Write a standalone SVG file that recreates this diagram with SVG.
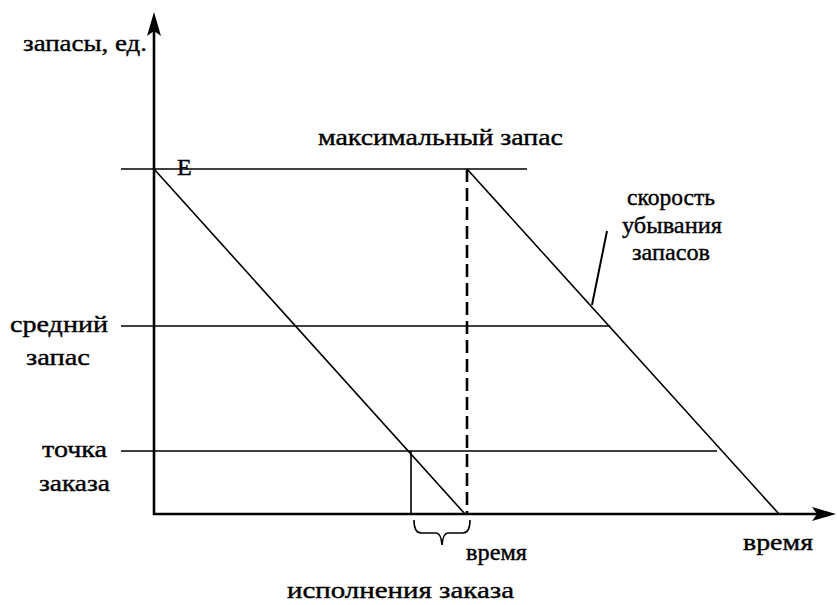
<svg xmlns="http://www.w3.org/2000/svg" width="837" height="605" viewBox="0 0 837 605">
<style>
text{font-family:"Liberation Serif","Times New Roman",serif;font-size:24px;fill:#000;stroke:#000;stroke-width:0.4}
.ln{stroke:#000;stroke-width:1.6;fill:none}
.ax{stroke:#000;stroke-width:2.6;fill:none}
</style>
<rect width="837" height="605" fill="#fff"/>
<g id="connectors">
<line class="ax" x1="154" y1="515" x2="154" y2="30"/>
<path d="M154,12 L161,36 L154,31 L147,36 Z" fill="#000"/>
<line class="ax" x1="153" y1="514" x2="820" y2="514"/>
<path d="M836,514 L812,521 L817,514 L812,507 Z" fill="#000"/>
<line class="ln" x1="121" y1="169" x2="527" y2="169"/>
<line class="ln" x1="121" y1="326" x2="610" y2="326"/>
<line class="ln" x1="121" y1="451" x2="717" y2="451"/>
<line class="ln" x1="154" y1="169" x2="465" y2="514"/>
<line class="ln" x1="467" y1="169" x2="779" y2="514"/>
<line x1="467" y1="169" x2="467" y2="514" stroke="#000" stroke-width="2.6" stroke-dasharray="13,6"/>
<line class="ln" x1="411" y1="451" x2="411" y2="514"/>
<line x1="607" y1="231" x2="592" y2="305" stroke="#000" stroke-width="2"/>
<path class="ln" d="M414,520 Q414,533 421,533 L436,533 Q441,533 442,545 Q443,533 448,533 L463,533 Q470,533 470,520"/>
</g>
<g id="labels">
<text x="23" y="51" textLength="124" lengthAdjust="spacingAndGlyphs">запасы, ед.</text>
<text x="177" y="175">E</text>
<text x="318" y="145" textLength="245" lengthAdjust="spacingAndGlyphs">максимальный запас</text>
<text x="627" y="205" textLength="88" lengthAdjust="spacingAndGlyphs">скорость</text>
<text x="622" y="233" textLength="100" lengthAdjust="spacingAndGlyphs">убывания</text>
<text x="632" y="260" textLength="78" lengthAdjust="spacingAndGlyphs">запасов</text>
<text x="10" y="332" textLength="98" lengthAdjust="spacingAndGlyphs">средний</text>
<text x="26" y="365" textLength="64" lengthAdjust="spacingAndGlyphs">запас</text>
<text x="42" y="457" textLength="65" lengthAdjust="spacingAndGlyphs">точка</text>
<text x="39" y="491" textLength="71" lengthAdjust="spacingAndGlyphs">заказа</text>
<text x="466" y="560" textLength="61" lengthAdjust="spacingAndGlyphs">время</text>
<text x="743" y="550" textLength="70" lengthAdjust="spacingAndGlyphs">время</text>
<text x="287" y="598" textLength="227" lengthAdjust="spacingAndGlyphs">исполнения заказа</text>
</g>
</svg>
